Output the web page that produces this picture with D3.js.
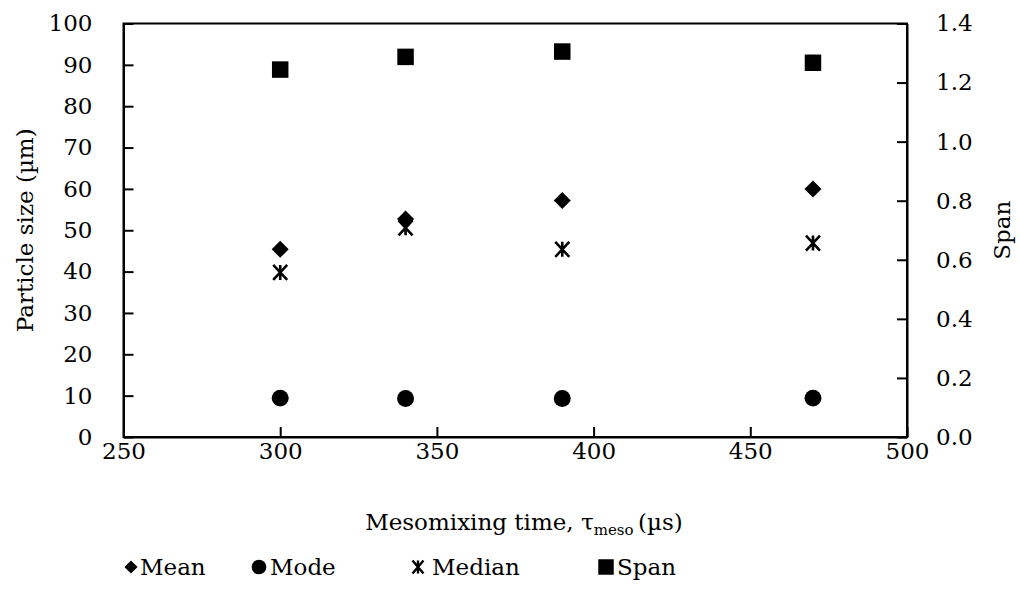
<!DOCTYPE html>
<html>
<head>
<meta charset="utf-8">
<script src="https://cdn.jsdelivr.net/npm/d3@7"></script>
<style>
  body { margin: 0; background: #fff; }
  svg text { font-family: "DejaVu Serif", serif; fill: #000; }
</style>
</head>
<body>
<svg id="chart" width="1020" height="593"></svg>
<script>
// Mesomixing time (µs)
const times = [300, 340, 390, 470];
// Particle size statistics (µm)
const meanSize = [45.4, 52.7, 57.2, 60.0];
const modeSize = [9.4, 9.3, 9.3, 9.4];
const medianSize = [39.8, 50.6, 45.4, 46.9];
// Span (dimensionless, right axis)
const spanValues = [1.244, 1.287, 1.305, 1.267];

const xTicks = [250, 300, 350, 400, 450, 500];
const yLeftTicks = [0, 10, 20, 30, 40, 50, 60, 70, 80, 90, 100];
const yRightTicks = [0, 0.2, 0.4, 0.6, 0.8, 1.0, 1.2, 1.4];
const legendLabels = ["Mean", "Mode", "Median", "Span"];

const svg = d3.select("#chart");
const plotL = 123.5, plotR = 907, plotT = 23.5, plotB = 437;

const x = d3.scaleLinear().domain([250, 500]).range([plotL, plotR]);
const yL = d3.scaleLinear().domain([0, 100]).range([plotB, plotT]);
const yR = d3.scaleLinear().domain([0, 1.4]).range([plotB, plotT]);

const fs = 23;

// frame
svg.append("rect").attr("x", plotL).attr("y", plotT)
  .attr("width", plotR - plotL).attr("height", plotB - plotT)
  .attr("fill", "none").attr("stroke", "#000").attr("stroke-width", 2);

// axes with inward ticks
const gx = svg.append("g").attr("transform", `translate(0,${plotB})`)
  .call(d3.axisBottom(x).tickValues(xTicks).tickSizeInner(-10).tickSizeOuter(0).tickPadding(6));
const gl = svg.append("g").attr("transform", `translate(${plotL},0)`)
  .call(d3.axisLeft(yL).tickValues(yLeftTicks).tickSizeInner(-10).tickSizeOuter(0).tickPadding(31));
const gr = svg.append("g").attr("transform", `translate(${plotR},0)`)
  .call(d3.axisRight(yR).tickValues(yRightTicks).tickFormat(d3.format(".1f")).tickSizeInner(-10).tickSizeOuter(0).tickPadding(29));

[gx, gl, gr].forEach(g => {
  g.attr("font-family", null);
  g.select(".domain").attr("stroke", "#000").attr("stroke-width", 2);
  g.selectAll(".tick line").attr("stroke", "#000").attr("stroke-width", 2);
  g.selectAll(".tick text").attr("font-size", fs);
});

// axis titles
svg.append("text").attr("transform", `translate(33,${(plotT + plotB) / 2}) rotate(-90)`)
  .attr("text-anchor", "middle").attr("font-size", fs).text("Particle size (µm)");
svg.append("text").attr("transform", `translate(1010,${(plotT + plotB) / 2}) rotate(-90)`)
  .attr("text-anchor", "middle").attr("font-size", fs).text("Span");

const xt = svg.append("text").attr("x", 524).attr("y", 530)
  .attr("text-anchor", "middle").attr("font-size", fs);
xt.append("tspan").text("Mesomixing time, τ");
xt.append("tspan").attr("font-size", 15).attr("dy", 5).text("meso");
xt.append("tspan").attr("dy", -5).text("\u2009(µs)");

// star marker: an X crossed by a vertical stroke
function starPath(w, h) {
  return `M${-w},${-h}L${w},${h}M${-w},${h}L${w},${-h}M0,${-h}L0,${h}`;
}

const markers = {
  Mean: { d: d3.symbol().type(d3.symbolDiamond2).size(185)(), fill: true },
  Mode: { d: d3.symbol().type(d3.symbolCircle).size(225)(), fill: true },
  Median: { d: starPath(7, 7.5), fill: false },
  Span: { d: d3.symbol().type(d3.symbolSquare).size(272)(), fill: true }
};

function drawSeries(name, vals, scale) {
  const m = markers[name];
  svg.append("g").selectAll("path").data(vals).join("path")
    .attr("transform", (d, i) => `translate(${x(times[i])},${scale(d)})`)
    .attr("d", m.d)
    .attr("fill", m.fill ? "#000" : "none")
    .attr("stroke", m.fill ? "none" : "#000")
    .attr("stroke-width", 2.6);
}
drawSeries("Span", spanValues, yR);
drawSeries("Median", medianSize, yL);
drawSeries("Mean", meanSize, yL);
drawSeries("Mode", modeSize, yL);

// legend
const legendSymX = [131, 259, 418, 606];
const legendTextX = [140, 270, 432, 617];
const legendMarkers = {
  Mean: { d: d3.symbol().type(d3.symbolDiamond2).size(110)(), fill: true },
  Mode: { d: d3.symbol().type(d3.symbolCircle).size(170)(), fill: true },
  Median: { d: starPath(5.5, 6.5), fill: false },
  Span: { d: d3.symbol().type(d3.symbolSquare).size(240)(), fill: true }
};
legendLabels.forEach((name, i) => {
  const m = legendMarkers[name];
  svg.append("path").attr("transform", `translate(${legendSymX[i]},567)`)
    .attr("d", m.d)
    .attr("fill", m.fill ? "#000" : "none")
    .attr("stroke", m.fill ? "none" : "#000")
    .attr("stroke-width", 2.4);
  svg.append("text").attr("x", legendTextX[i]).attr("y", 575)
    .attr("font-size", fs).text(name);
});
</script>
</body>
</html>
